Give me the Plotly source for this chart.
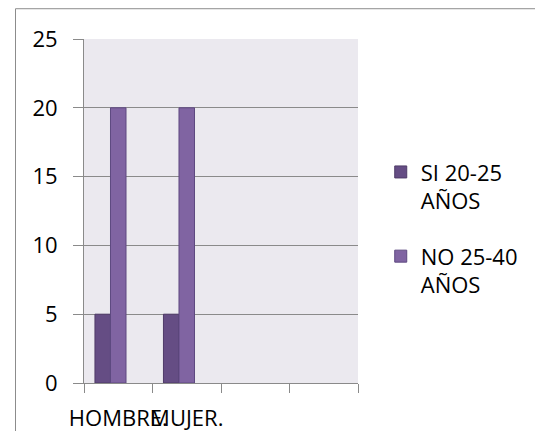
import plotly.graph_objects as go

# categorias del eje X (las dos ultimas vacias, como en el original)
categorias = ["HOMBRE.", "MUJER.", " ", "  "]
si_20_25 = [5, 5, None, None]
no_25_40 = [20, 20, None, None]
serie_vacia = [None, None, None, None]

FONT = "Open Sans"
GRIS = "#8a8a8a"

fig = go.Figure()
fig.add_bar(x=categorias, y=si_20_25, name="SI 20-25<br>AÑOS", legendgroup="si",
            marker=dict(color="#654D84", line=dict(color="#4f3b68", width=1)))
fig.add_bar(x=categorias, y=no_25_40, name="NO 25-40<br>AÑOS", legendgroup="no",
            marker=dict(color="#8064A2", line=dict(color="#5e4980", width=1)))
# tercera serie vacia: ocupa su hueco en el grupo pero no sale en la leyenda
fig.add_bar(x=categorias, y=serie_vacia, name="", showlegend=False,
            marker=dict(color="#9a86b8"))

# la pagina tiene 8px de margen en el body, por eso los margenes van desplazados
fig.update_layout(
    width=543, height=431,
    margin=dict(l=76, r=193, t=31, b=56, autoexpand=False),
    paper_bgcolor="white",
    plot_bgcolor="#EBE9EF",
    barmode="group", bargap=0.32, bargroupgap=0,
    font=dict(family=FONT, size=22, color="#000000"),
    showlegend=True,
    legend=dict(x=1.083, y=0.674, xanchor="left", yanchor="top",
                valign="top", traceorder="grouped", tracegroupgap=24,
                itemwidth=30, font=dict(family=FONT, size=22)),
)
fig.update_xaxes(
    type="category", tickson="boundaries", ticks="outside", ticklen=9,
    tickcolor=GRIS, showline=True, linecolor=GRIS, linewidth=1,
    showgrid=False, ticklabelstandoff=16, tickangle=0, automargin=False,
    tickfont=dict(family=FONT, size=22), fixedrange=True,
)
fig.update_yaxes(
    range=[0, 25], dtick=5, ticks="outside", ticklen=10, tickcolor=GRIS,
    showline=True, linecolor=GRIS, linewidth=1, automargin=False,
    showgrid=True, gridcolor=GRIS, gridwidth=1, zeroline=False,
    ticklabelstandoff=11, tickfont=dict(family=FONT, size=22),
)

# marco gris alrededor del grafico
fig.add_shape(type="rect", xref="paper", yref="paper",
              x0=-0.25, x1=1.70, y0=-0.2, y1=1.088,
              line=dict(color="#8c8c8c", width=1), fillcolor="rgba(0,0,0,0)",
              layer="below")

fig.write_html("out.html")
